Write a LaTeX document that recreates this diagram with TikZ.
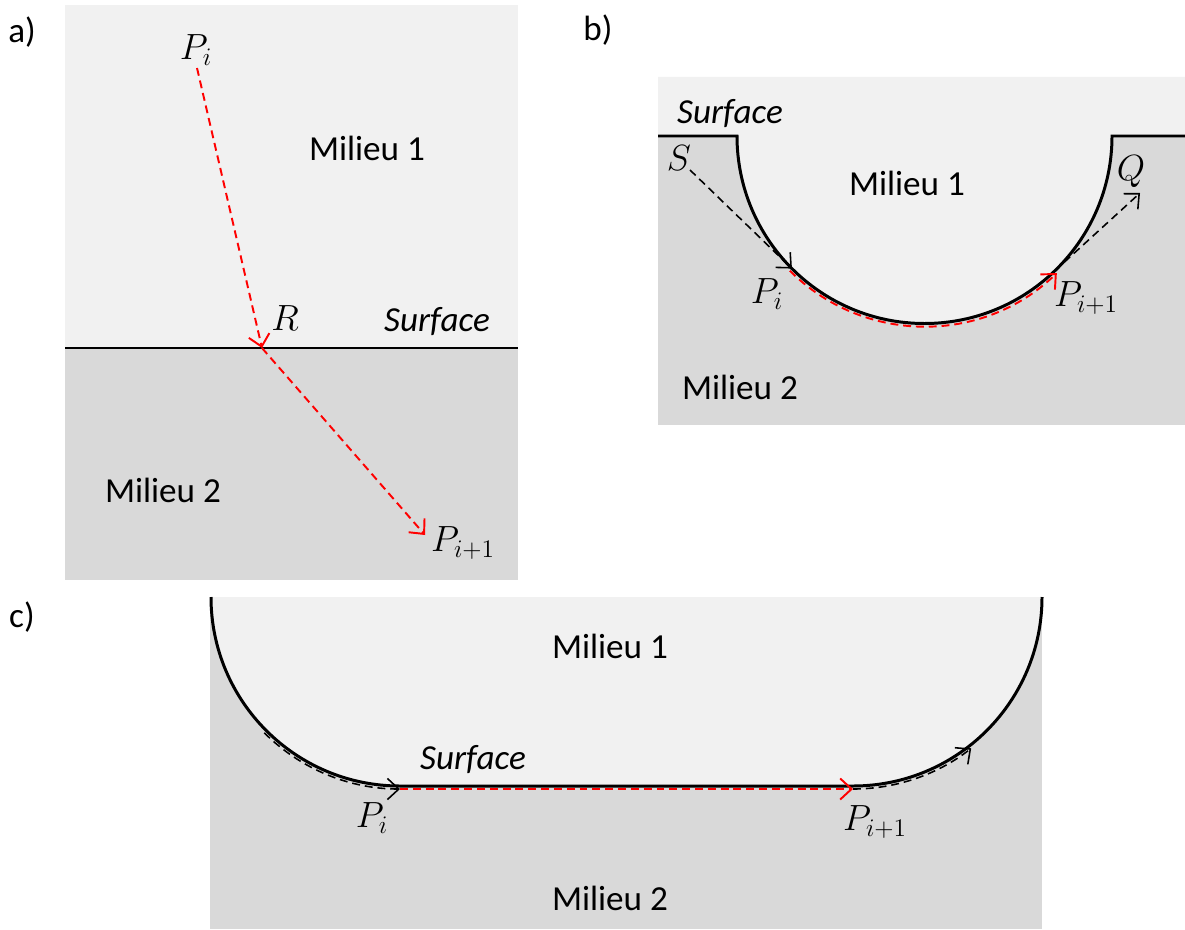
\documentclass[tikz,border=0pt]{standalone}
\usepackage{fontspec}
\setmainfont{Carlito}
\usepackage{tikz}
\usetikzlibrary{arrows.meta,positioning,calc}
\definecolor{milone}{RGB}{241,241,241}
\definecolor{miltwo}{RGB}{217,217,217}

\begin{document}
\begin{tikzpicture}[
  x=0.02cm, y=-0.02cm,
  lbl/.style={font=\fontsize{20}{24}\selectfont, inner sep=0pt},
  surf/.style={draw=black, line width=1.7pt},
  ray/.style={draw=red, line width=1.1pt, dash pattern=on 4.5pt off 2.8pt, -{Straight Barb[length=6.5pt,width=12pt]}},
  guide/.style={draw=black, line width=0.9pt, dash pattern=on 4.5pt off 2.8pt, -{Straight Barb[length=6.5pt,width=12pt]}}
]
  \useasboundingbox (0,0) rectangle (1185,929);

  % a) plane surface
  \fill[miltwo] (65,348) rectangle (518,580);
  \fill[milone] (65,5) rectangle (518,348);
  \draw[surf] (65,348) -- (518,348);
  \node[lbl] (alab) at (22,32) {a)};
  \node[lbl] (aPi) at (196,50) {$P_i$};
  \node[lbl] (aR) at (285,318) {$R$};
  \node[lbl] (asurf) at (437,322) {\itshape Surface};
  \node[lbl] (am1) at (367,148) {Milieu 1};
  \node[lbl] (am2) at (163,490) {Milieu 2};
  \node[lbl] (aPj) at (463,543) {$P_{i+1}$};
  \coordinate (aS) at (197,68);
  \coordinate (aX) at (262,348);
  \coordinate (aE) at (425,535);
  \draw[ray] (aS) -- (aX);
  \draw[ray] (aX) -- (aE);

  % b) hollow surface
  \fill[miltwo] (658,77) rectangle (1185,425);
  \fill[milone] (658,77) -- (658,136) -- (737,136) arc (180:0:187.5) -- (1185,136) -- (1185,77) -- cycle;
  \draw[surf] (658,136) -- (737,136) arc (180:0:187.5) -- (1185,136);
  \node[lbl] (blab) at (598,30) {b)};
  \node[lbl] (bsurf) at (730,114) {\itshape Surface};
  \node[lbl] (bm1) at (907,183) {Milieu 1};
  \node[lbl] (bm2) at (740,387) {Milieu 2};
  \node[lbl] (bS) at (679,158) {$S$};
  \node[lbl] (bQ) at (1131,172) {$Q$};
  \node[lbl] (bPi) at (767,294) {$P_i$};
  \node[lbl] (bPj) at (1086,298) {$P_{i+1}$};
  \coordinate (bA) at (690,170);
  \coordinate (bB) at ($(924.5,136)+(135:187.5)$);
  \coordinate (bC) at ($(924.5,136)+(135:190.5)$);
  \coordinate (bD) at ($(924.5,136)+(46:187.5)$);
  \coordinate (bE) at (1140,193);
  \draw[guide] (bA) -- (bB);
  \draw[ray] (bC) arc (135:46:190.5);
  \draw[guide] (bD) -- (bE);

  % c) flat bottom with rounded sides
  \fill[miltwo] (210,597) rectangle (1042,929);
  \fill[milone] (211,597) arc (180:90:189) -- (853,786) arc (90:0:189) -- cycle;
  \draw[surf] (211,597) arc (180:90:189) -- (853,786) arc (90:0:189);
  \node[lbl] (clab) at (22,617) {c)};
  \node[lbl] (cm1) at (610,646) {Milieu 1};
  \node[lbl] (cm2) at (610,898) {Milieu 2};
  \node[lbl] (csurf) at (473,760) {\itshape Surface};
  \node[lbl] (cPi) at (372,818) {$P_i$};
  \node[lbl] (cPj) at (875,822) {$P_{i+1}$};
  \coordinate (cA) at ($(400,597)+(135:192)$);
  \coordinate (cB) at (400,789);
  \coordinate (cC) at (853,789);
  \draw[guide] (cA) arc (135:90:192);
  \draw[ray] (cB) -- (cC);
  \draw[guide] (cC) arc (90:52:192);
\end{tikzpicture}
\end{document}
